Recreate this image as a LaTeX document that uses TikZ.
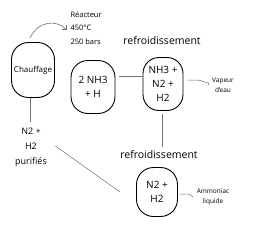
\documentclass[tikz,border=0pt]{standalone}
\usepackage{fontspec}
\setmainfont{Open Sans}
\usetikzlibrary{arrows.meta}
\definecolor{flowgrey}{HTML}{707070}
\tikzset{every node/.style={font=\fontsize{8}{10}\selectfont},
  vessel/.style={draw=black,line width=0.9pt,rounded corners=17pt,align=center,
    inner sep=0pt,font=\fontsize{10}{14}\selectfont},
  flow/.style={draw=flowgrey,line width=0.5pt},
  steplabel/.style={font=\fontsize{10.5}{12}\selectfont},
  sidelabel/.style={font=\fontsize{6.5}{9.5}\selectfont,align=center}}

\begin{document}
\begin{tikzpicture}[x=1pt,y=-1pt]
  \path[use as bounding box] (0,0) rectangle (257,236);
  % vessels
  \node[vessel,minimum width=43pt,minimum height=55pt,font=\fontsize{8}{9}\selectfont]
    (chauffage) at (33,70) {Chauffage};
  \node[vessel,minimum width=44pt,minimum height=53pt] (melange) at (93,87)
    {2 NH3\\+ H};
  \node[vessel,minimum width=40pt,minimum height=53pt,rounded corners=16pt] (sortie) at (163,84)
    {NH3 +\\N2 +\\H2};
  \node[vessel,minimum width=41pt,minimum height=49pt] (recycle) at (157,192)
    {N2 +\\H2};
  % labels
  \node[align=left,anchor=west,font=\fontsize{7.5}{13.5}\selectfont] (reacteur) at (67,28)
    {Réacteur\\450°C\\250 bars};
  \coordinate (reacteurIn) at (67,30);
  \node[steplabel] (refroidA) at (162,41) {refroidissement};
  \node[steplabel] (refroidB) at (159,155) {refroidissement};
  \node[align=center,font=\fontsize{9}{15}\selectfont] (purifies) at (31,147)
    {N2 +\\H2\\purifiés};
  \node[sidelabel] (vapeur) at (223,85) {Vapeur\\d'eau};
  \node[sidelabel] (ammoniac) at (213,197) {Ammoniac\\liquide};
  % flows
  \draw[flow,line width=0.6pt,-{Straight Barb[length=3.5pt,width=7pt]}] (30,38)
    .. controls (38,21) and (56,19) .. (reacteurIn);
  \draw[flow] (melange.east |- 0,76) ++(4,0) coordinate (mA) -- (sortie.west |- mA);
  \draw[flow] (sortie.south) ++(-1,3) coordinate (sA) -- (refroidB.north -| sA);
  \draw[flow] (purifies.north) ++(-1,-2) coordinate (pA) -- (chauffage.south -| pA);
  \draw[flow] (purifies.east) ++(5,-1) -- (120,192);
  \draw[flow] (sortie.east) ++(4,-4) coordinate (vA) -- ++(10,0)
    .. controls ++(4,0) and ++(-4,0) .. (vapeur.west |- 0,83) -- (vapeur.west);
  \draw[flow] (recycle.east) ++(2,2) coordinate (aA) -- ++(9,0)
    .. controls ++(3,0) and ++(-3,0) .. (ammoniac.west |- 0,197) -- (ammoniac.west);
\end{tikzpicture}
\end{document}
